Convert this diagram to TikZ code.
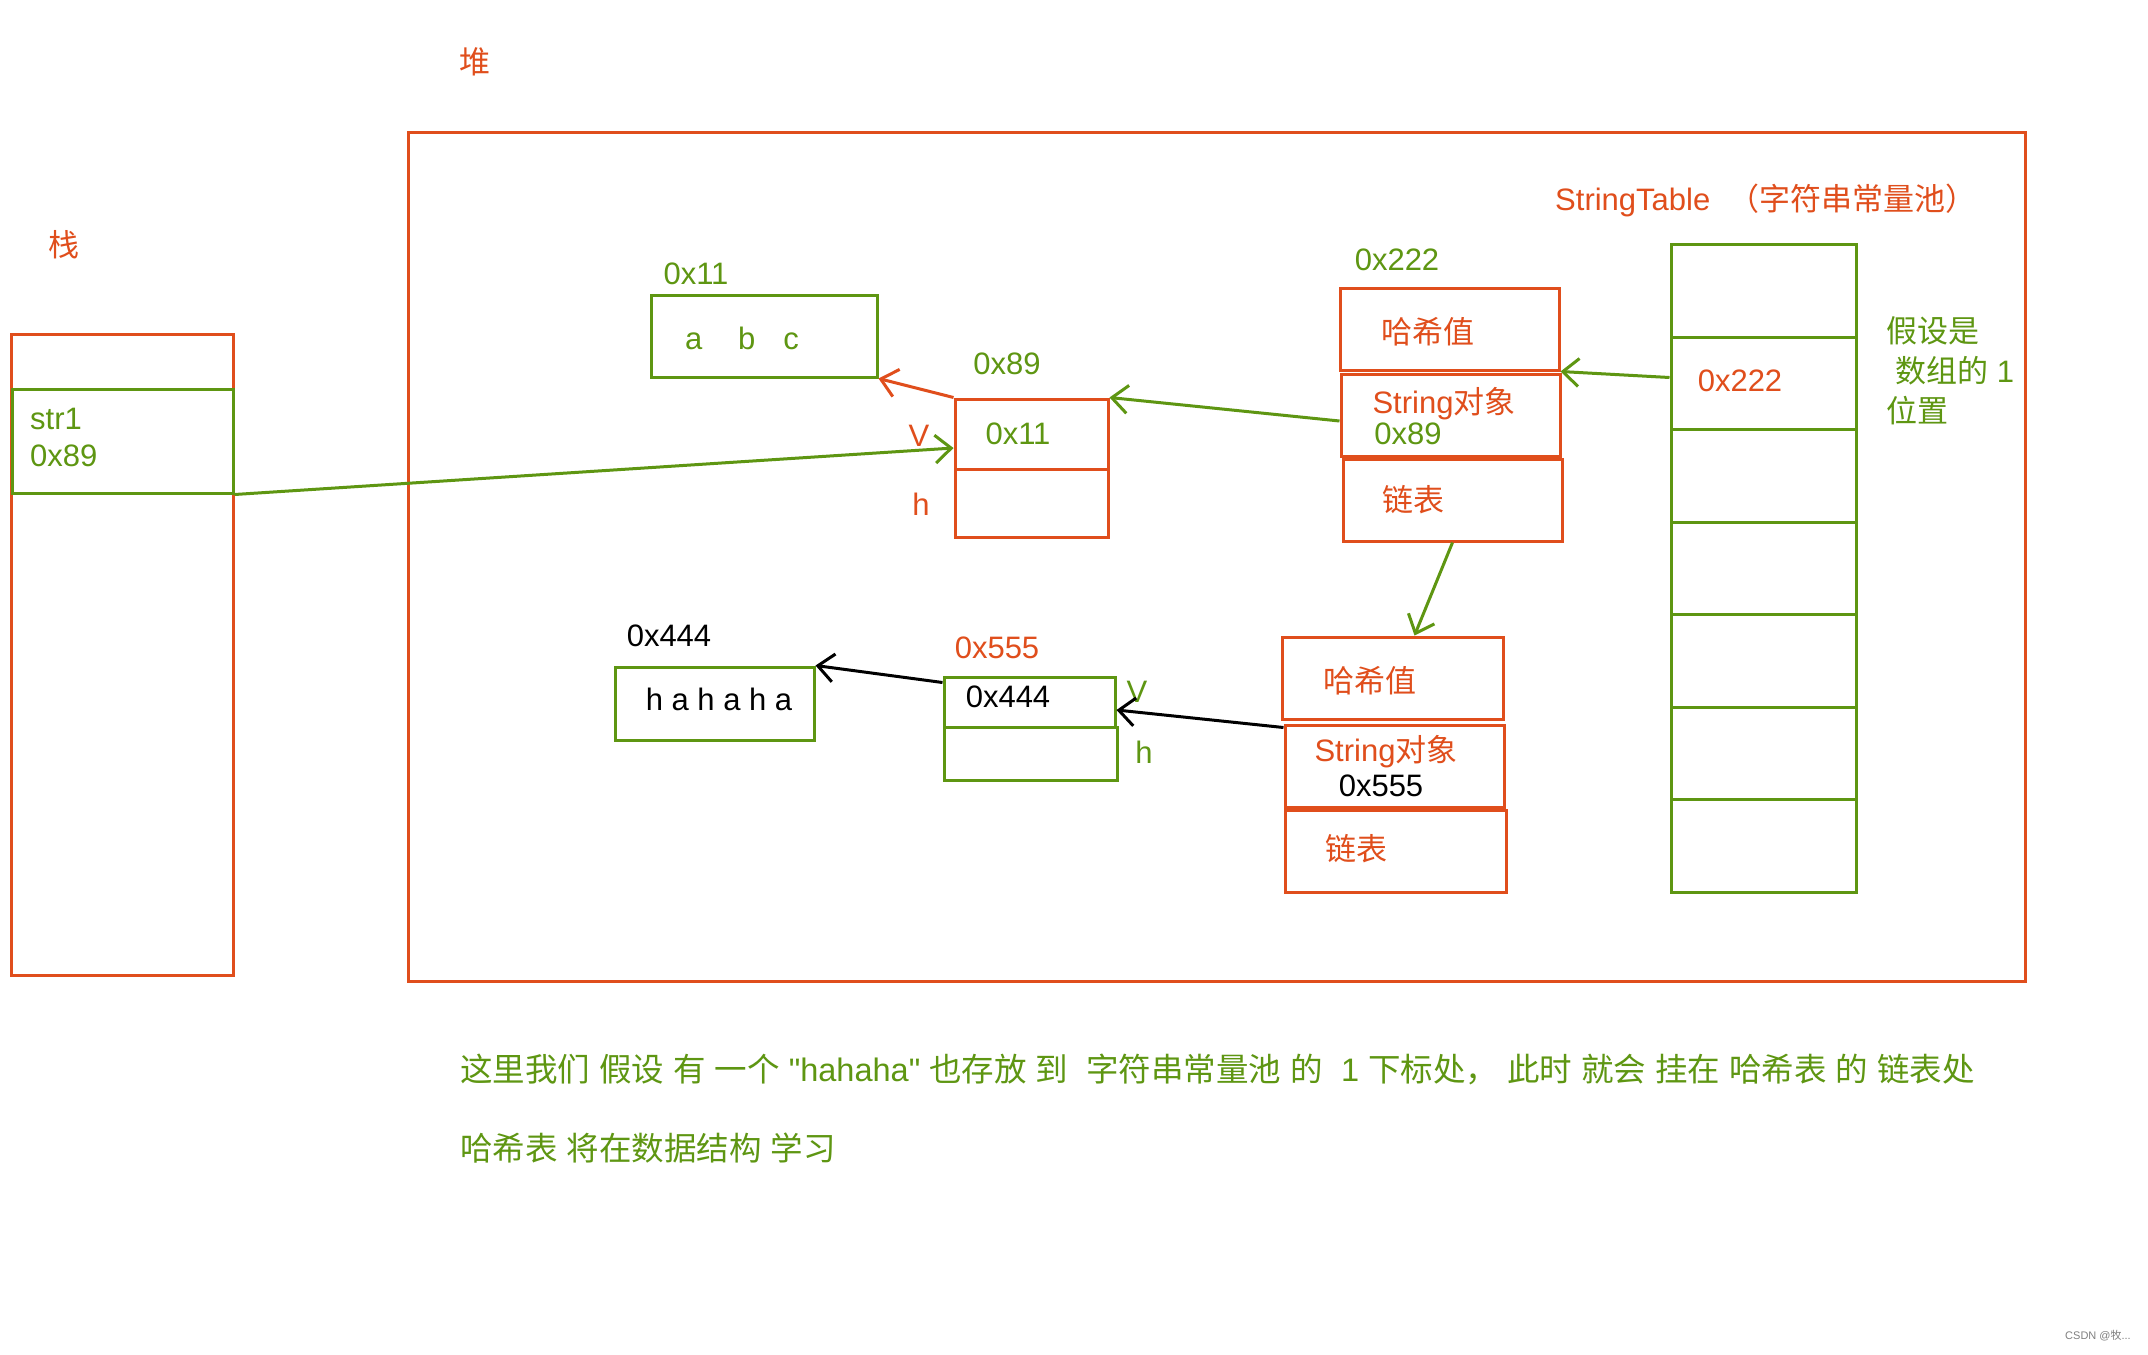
\documentclass[tikz,border=0pt]{standalone}
\usepackage{fontspec}
\setmainfont{Liberation Sans}
\newfontfamily\cjk{Noto Sans CJK SC}
\newfontfamily\lat{Liberation Sans}
\usetikzlibrary{arrows.meta}
\definecolor{ora}{RGB}{224,78,28}
\definecolor{grn}{RGB}{94,150,18}
\newcommand\zh[1]{{\cjk #1}}
\begin{document}
\begin{tikzpicture}[x=1pt,y=-1pt,
  box/.style={draw,line width=3pt,inner sep=0pt,minimum width=#1},
  obox/.style={box=#1,draw=ora},
  gbox/.style={box=#1,draw=grn},
  lbl/.style={inner sep=0pt,font=\fontsize{31}{37}\selectfont},
  ol/.style={lbl,text=ora},
  gl/.style={lbl,text=grn},
  bl/.style={lbl,text=black},
  arr/.style={line width=3pt,-{Straight Barb[length=16pt,width=28pt,line width=3pt]}}]
\useasboundingbox[fill=white] (0,0) rectangle (2148,1355);

% titles
\node[ol] (heapT) at (475,62) {\zh{堆}};
\node[ol] (stackT) at (64,245) {\zh{栈}};

% stack
\node[obox=222pt,minimum height=641pt] (stack) at (122,654.5) {};
\node[gbox=221pt,minimum height=104pt] (str1) at (122.5,441) {};
\node[gl,anchor=west,align=left] (str1t) at (30,437) {str1\\0x89};

% heap
\node[obox=1617pt,minimum height=849pt] (heap) at (1216.5,556.5) {};

% abc
\node[gbox=226pt,minimum height=82pt] (abc) at (764,336) {};
\node[gl] (abct) at (742,338) {a\hspace{36pt}b\hspace{28pt}c};
\node[gl] (abcl) at (696,274) {0x11};

% 0x89 object
\node[obox=153pt,minimum height=70pt] (v89) at (1031.5,434) {};
\node[obox=153pt,minimum height=68pt] (h89) at (1031.5,503) {};
\node[gl] (v89t) at (1018,434) {0x11};
\node[gl] (v89l) at (1007,364) {0x89};
\node[ol] (v89v) at (919,436) {V};
\node[ol] (v89h) at (921,504) {h};

% hash group 1
\node[obox=219pt,minimum height=82pt] (hv1) at (1449.5,329) {};
\node[obox=219pt,minimum height=82pt] (so1) at (1450.5,415) {};
\node[obox=219pt,minimum height=82pt] (ll1) at (1452.5,500) {};
\node[ol] (hv1t) at (1428,332) {\zh{哈希值}};
\node[ol] (so1t) at (1444,404) {String\zh{对象}};
\node[gl] (so1a) at (1408,434) {0x89};
\node[ol] (ll1t) at (1413,500) {\zh{链表}};
\node[gl] (g1l) at (1397,260) {0x222};

% string table array
\node[ol,anchor=west] (stT) at (1555,200) {StringTable\hspace{18pt}\zh{（字符串常量池）}};
\foreach \i/\y in {1/291,2/383.5,3/476,4/568.5,5/661,6/753.5,7/846}{
  \node[gbox=185pt,minimum height=92.5pt] (c\i) at (1763.5,\y) {};
}
\node[ol] (c2t) at (1740,381) {0x222};
\node[gl,anchor=west,align=left] (note) at (1886,371) {\zh{假设是}\\[3pt]\hspace{9pt}\zh{数组的} 1\\[3pt]\zh{位置}};

% hash group 2
\node[obox=221pt,minimum height=82pt] (hv2) at (1392.5,678) {};
\node[obox=219pt,minimum height=82pt] (so2) at (1394.5,766) {};
\node[obox=221pt,minimum height=82pt] (ll2) at (1395.5,851) {};
\node[ol] (hv2t) at (1370,681) {\zh{哈希值}};
\node[ol] (so2t) at (1386,752) {String\zh{对象}};
\node[bl] (so2a) at (1381,786) {0x555};
\node[ol] (ll2t) at (1356,849) {\zh{链表}};

% 0x555 object
\node[gbox=171pt,minimum height=50pt] (v555) at (1029.5,702) {};
\node[gbox=173pt,minimum height=53pt] (h555) at (1030.5,753.5) {};
\node[bl] (v555t) at (1008,697) {0x444};
\node[ol] (v555l) at (997,648) {0x555};
\node[gl] (v555v) at (1137,692) {V};
\node[gl] (v555h) at (1144,752) {h};

% hahaha
\node[gbox=199pt,minimum height=73pt] (hah) at (714.5,703.5) {};
\node[bl] (haht) at (719,699) {h a h a h a};
\node[bl] (hahl) at (669,636) {0x444};

% arrows
\draw[arr,draw=grn] (str1.south east) -- ([yshift=-14pt]v89.west);
\draw[arr,draw=ora] (v89.north west) -- (abc.south east);
\draw[arr,draw=grn] ([yshift=-6pt]so1.west) -- (v89.north east);
\draw[arr,draw=grn] ([yshift=6pt]c2.west) -- (hv1.south east);
\draw[arr,draw=grn] (ll1.south) -- ([xshift=22pt]hv2.north);
\draw[arr,draw=black] ([yshift=-4pt]so2.north west) -- ([yshift=-8pt]v555.east);
\draw[arr,draw=black] ([yshift=-7pt]v555.north west) -- (hah.north east);

% bottom notes
\node[gl,anchor=west,font=\fontsize{32.5}{38}\selectfont] (n1) at (460,1069) {\zh{这里我们} \zh{假设} \zh{有} \zh{一个} {\lat "hahaha"} \zh{也存放} \zh{到}\ \ \zh{字符串常量池} \zh{的}\ \ 1 \zh{下标处，} \zh{此时} \zh{就会} \zh{挂在} \zh{哈希表} \zh{的} \zh{链表处}};
\node[gl,anchor=west,font=\fontsize{32.5}{38}\selectfont] (n2) at (460,1148) {\zh{哈希表} \zh{将在数据结构} \zh{学习}};

\node[inner sep=0pt,text=gray,font=\fontsize{11}{13}\selectfont] (wm) at (2098,1336) {CSDN @\zh{牧}...};
\end{tikzpicture}
\end{document}
